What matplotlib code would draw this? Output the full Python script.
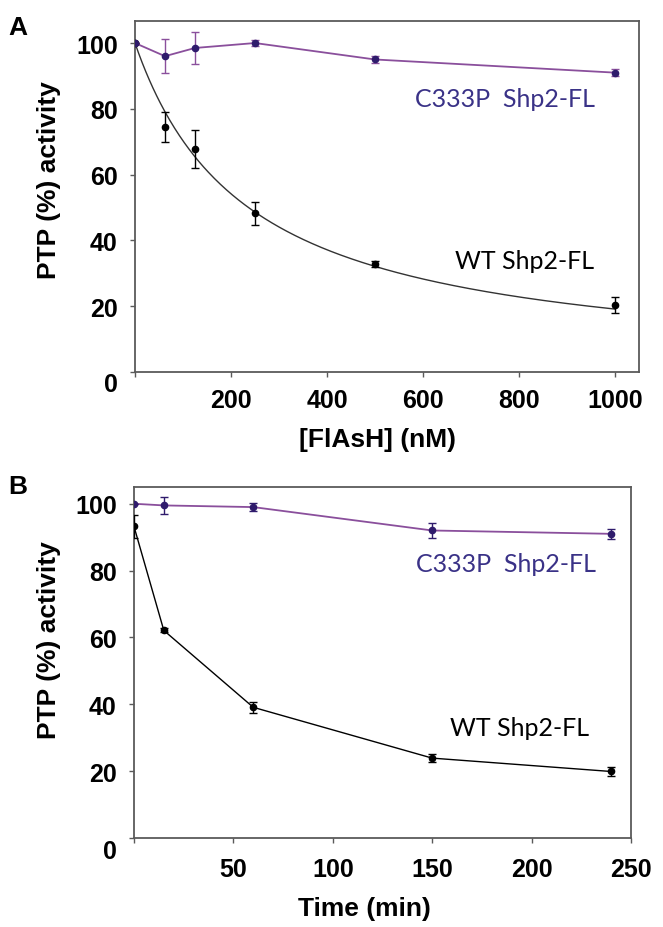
import numpy as np
import matplotlib
matplotlib.use("Agg")
import matplotlib.pyplot as plt
from matplotlib.transforms import ScaledTranslation

# ---------------- data ----------------
# Panel A: FlAsH titration
flash_nM = [0, 62.5, 125, 250, 500, 1000]
a_c333p = [100, 96, 98.5, 100, 95, 91]
a_c333p_err = [0, 5.2, 5, 1, 1, 1]
a_wt = [100, 74.4, 67.8, 48.2, 32.8, 20.3]
a_wt_err = [0, 4.5, 5.7, 3.6, 1, 2.5]

# Panel B: time course
time_min = [0, 15, 60, 150, 240]
b_c333p = [100, 99.5, 99, 92, 91]
b_c333p_err = [0, 2.6, 1.3, 2.2, 1.5]
b_wt = [93.2, 62.1, 39.1, 23.9, 19.9]
b_wt_err = [3.5, 0.6, 1.6, 1.3, 1.3]

a_xticks = [200, 400, 600, 800, 1000]
b_xticks = [50, 100, 150, 200, 250]
yticks = [0, 20, 40, 60, 80, 100]

# ---------------- style ----------------
BOLD = ["Liberation Sans", "DejaVu Sans"]
TICKF = ["Liberation Sans Narrow", "Liberation Sans", "DejaVu Sans"]
ANNOT = ["Lato", "DejaVu Sans"]
PURPLE_LINE = "#8a4f9c"
PURPLE_MK = "#2f1b6c"
PURPLE_TXT = "#3a3287"
FRAME = "#5a5a5a"

fig = plt.figure(figsize=(6.63, 9.28), dpi=100)

# fitted hyperbolic inhibition curve from panel-A WT data
x_arr = np.array(flash_nM, float)
y_arr = np.array(a_wt, float)
K_grid = np.linspace(50, 1000, 9501)
sse = [np.sum((100.0 / (1 + x_arr / K) - y_arr) ** 2) for K in K_grid]
K_fit = K_grid[int(np.argmin(sse))]


def style_axes(ax, xticks, xmax, ymax, xpad):
    ax.set_xlim(0, xmax)
    ax.set_ylim(0, ymax)
    ax.set_xticks([0] + xticks)
    ax.set_xticklabels([""] + [str(t) for t in xticks])
    ax.set_yticks(yticks)
    ax.set_yticklabels([str(t) for t in yticks])
    for s in ax.spines.values():
        s.set_color(FRAME)
        s.set_linewidth(1.3)
    ax.tick_params(axis="both", direction="out", length=3.5, width=1.0,
                   color=FRAME, labelsize=18)
    ax.tick_params(axis="y", pad=9)
    ax.tick_params(axis="x", pad=xpad)
    for lab in ax.get_xticklabels() + ax.get_yticklabels():
        lab.set_fontfamily(TICKF)
        lab.set_fontweight("bold")
    # the "0" label sits a bit below its tick
    lab0 = ax.get_yticklabels()[0]
    lab0.set_transform(lab0.get_transform() +
                       ScaledTranslation(0, -10 / 100, fig.dpi_scale_trans))


# ---------------- panel A ----------------
axA = fig.add_axes([0.2036, 0.5981, 0.7602, 0.3782])
xs = np.linspace(0, 1000, 400)
axA.plot(xs, 100.0 / (1 + xs / K_fit), color="#333333", lw=1.0, zorder=2)
axA.errorbar(flash_nM, a_wt, yerr=a_wt_err, fmt="o", color="black",
             ms=4.5, capsize=3, elinewidth=1, capthick=1, zorder=3)
axA.plot(flash_nM, a_c333p, color=PURPLE_LINE, lw=1.3, zorder=2)
axA.errorbar(flash_nM, a_c333p, yerr=a_c333p_err, fmt="o", color=PURPLE_MK,
             ecolor=PURPLE_LINE, ms=4.5, capsize=3, elinewidth=1, capthick=1,
             zorder=3)
style_axes(axA, a_xticks, 1050, 106.7, 8)
axA.text(770, 83, "C333P  Shp2-FL", color=PURPLE_TXT, fontsize=18,
         family=ANNOT, ha="center", va="center")
axA.text(812, 34, "WT Shp2-FL", color="black", fontsize=18,
         family=ANNOT, ha="center", va="center")
axA.set_xlabel("[FlAsH] (nM)", fontsize=19, fontweight="bold", family=BOLD)
axA.xaxis.set_label_coords(0.481, -0.191)
axA.xaxis.label.set_va("center")
axA.set_ylabel("PTP (%) activity", fontsize=19, fontweight="bold", family=BOLD)
axA.yaxis.set_label_coords(-0.171, 0.55)
axA.yaxis.label.set_va("center")

# ---------------- panel B ----------------
axB = fig.add_axes([0.2021, 0.0959, 0.7496, 0.3782])
axB.errorbar(time_min, b_wt, yerr=b_wt_err, fmt="-o", color="black", lw=1.0,
             ms=4.5, capsize=3, elinewidth=1, capthick=1, zorder=3)
axB.plot(time_min, b_c333p, color=PURPLE_LINE, lw=1.3, zorder=2)
axB.errorbar(time_min, b_c333p, yerr=b_c333p_err, fmt="o", color=PURPLE_MK,
             ecolor=PURPLE_MK, ms=4.5, capsize=3, elinewidth=1, capthick=1,
             zorder=3)
style_axes(axB, b_xticks, 250, 105, 10)
axB.text(187, 82, "C333P  Shp2-FL", color=PURPLE_TXT, fontsize=18,
         family=ANNOT, ha="center", va="center")
axB.text(194, 33, "WT Shp2-FL", color="black", fontsize=18,
         family=ANNOT, ha="center", va="center")
axB.set_xlabel("Time (min)", fontsize=19, fontweight="bold", family=BOLD)
axB.xaxis.set_label_coords(0.463, -0.199)
axB.xaxis.label.set_va("center")
axB.set_ylabel("PTP (%) activity", fontsize=19, fontweight="bold", family=BOLD)
axB.yaxis.set_label_coords(-0.171, 0.567)
axB.yaxis.label.set_va("center")

# panel letters
fig.text(18 / 663, 1 - 28 / 928, "A", fontsize=19, fontweight="bold",
         family=BOLD, ha="center", va="center")
fig.text(18 / 663, 1 - 487 / 928, "B", fontsize=19, fontweight="bold",
         family=BOLD, ha="center", va="center")

fig.savefig("out.png", dpi=100, facecolor="white")
